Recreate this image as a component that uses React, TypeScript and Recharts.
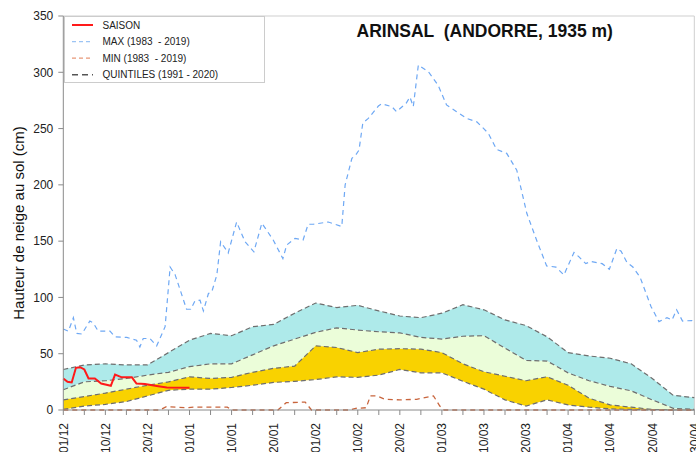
import React from 'react';
import { ComposedChart, Area, Line, XAxis, YAxis, ReferenceLine, Label } from 'recharts';

// x unit: 10 units between consecutive labelled dates (01/12 = 0 ... 30/04 = 150)
const tickLabels = ['01/12', '10/12', '20/12', '01/01', '10/01', '20/01', '01/02', '10/02', '20/02', '01/03', '10/03', '20/03', '01/04', '10/04', '20/04', '30/04'];
const xTicks = [0, 5, 10, 15, 20, 25, 30, 35, 40, 45, 50, 55, 60, 65, 70, 75, 80, 85, 90, 95, 100, 105, 110, 115, 120, 125, 130, 135, 140, 145, 150];
const yTicks = [0, 50, 100, 150, 200, 250, 300, 350];

const quintileDays = [0, 5, 10, 15, 20, 25, 30, 35, 40, 45, 50, 55, 60, 65, 70, 75, 80, 85, 90, 95, 100, 105, 110, 115, 120, 125, 130, 135, 140, 145, 150];
const q20 = [0.5, 3.5, 5, 7.5, 12.5, 17.5, 18.5, 18.5, 20, 22, 24.5, 25.5, 27, 29.5, 29, 31, 36, 33, 33, 25.5, 18.5, 9, 3.5, 9, 4.5, 2.5, 1, 0.5, 0, 0, 0];
const q40 = [9, 12, 15, 18.5, 22, 25, 29.5, 28, 29, 33.5, 37, 39, 57, 55.5, 51, 54, 54.5, 54, 51, 41, 34, 30, 26, 29.5, 22, 10.5, 4.5, 2.5, 0.5, 0, 0];
const q60 = [18, 25, 26, 28, 31, 33.5, 38.5, 41, 41, 49, 57, 63, 69, 73, 71, 69.5, 68.5, 64.5, 63, 65.5, 66, 55, 44, 43.5, 33, 26, 21, 17, 9, 1.5, 0.5];
const q80 = [36, 40, 41, 40, 40, 51, 62, 68, 66, 74, 76, 86, 95, 91, 93, 88, 83.5, 82, 86, 93.5, 89, 80, 75, 65, 51, 48, 46, 41, 28, 13, 11];

const maxDays = [0, 1.2, 2.4, 3.2, 4.4, 6.3, 7.1, 8.3, 11.1, 12.3, 15.1, 17.4, 18.2, 19.0, 20.6, 22.2, 24.2, 25.4, 26.6, 29.3, 30.3, 31.3, 32.5, 33.3, 34.5, 35.3, 36.5, 37.4, 39.2, 41.2, 43.2, 45.3, 47.2, 49.9, 52.2, 53.1, 55.1, 57.0, 58.2, 59.4, 63.0, 66.2, 67.0, 68.6, 69.7, 70.3, 71.2, 72.5, 74.9, 75.7, 78.1, 79.2, 81.5, 82.4, 83.2, 84.4, 86.8, 89.1, 91.1, 93.5, 95.9, 98.3, 101.0, 103.0, 105.4, 107.8, 110.2, 112.5, 114.9, 117.1, 119.0, 121.4, 122.6, 124.2, 125.4, 128.1, 129.8, 131.6, 132.6, 134.0, 135.4, 137.1, 139.7, 141.6, 143.5, 144.7, 145.8, 147.2, 149.4, 150];
const maxValues = [72, 70, 82, 68, 67.5, 79, 77.5, 70, 70, 65, 64.5, 62, 56, 63.5, 63.5, 57, 74, 127, 120, 89.5, 89.5, 97, 97.5, 88, 103.5, 105, 120, 149.5, 139.5, 167, 149.5, 140.5, 166, 151, 134.5, 146.5, 152.5, 151, 165, 165, 167, 163, 200, 223.5, 227.5, 231, 255, 259, 270, 272, 269.5, 265, 272.5, 278, 269.5, 306.5, 300.5, 288.5, 271, 265, 259, 256, 246, 231.5, 228, 213, 174.5, 151, 128, 127, 120, 140, 136, 130, 132, 130, 125, 143.5, 141, 131, 127, 118, 92, 78.5, 82, 80, 89, 79, 79.5, 78];

const minDays = [0, 23, 24.5, 29, 31, 39, 40, 51, 53, 57.5, 59, 68, 69.5, 72, 73, 74.5, 76.5, 80, 84, 88, 89.5, 90.5, 150];
const minValues = [0, 0, 3, 2, 2.5, 2.5, 0, 0, 6.5, 7, 0, 0, 1.5, 2, 12.5, 12.5, 9.5, 9, 9.5, 12.5, 3.5, 0, 0];

const saisonDays = [0, 1, 2, 3, 4, 5, 6, 7.5, 9, 11.3, 12.3, 13.9, 16.3, 17.4, 19.4, 22.2, 24.6, 30];
const saisonValues = [28, 25, 24.5, 37.5, 38, 36, 28, 28, 23.5, 21.5, 31.5, 29, 29, 23.5, 23, 21.3, 20, 19.8];

const quintileRows = quintileDays.map((u, i) => ({ u, q20: q20[i], q40: q40[i], q60: q60[i], q80: q80[i] }));
const maxRows = maxDays.map((u, i) => ({ u, v: maxValues[i] }));
const minRows = minDays.map((u, i) => ({ u, v: minValues[i] }));
const saisonRows = saisonDays.map((u, i) => ({ u, v: saisonValues[i] }));

const FONT = '"Liberation Sans", Arial, Helvetica, sans-serif';
const QCOLOR = '#6e6e6e';
const MAXCOLOR = '#6ea8f4';
const MINCOLOR = '#c8643c';
const SAISONCOLOR = '#ff1a1a';

const XTick = (props: any) => {
  const { x, y, payload } = props;
  const v = payload.value;
  if (v % 10 !== 0) return <g />;
  const label = tickLabels[v / 10];
  return (
    <g transform={`translate(${x},${y})`}>
      <text x={0} y={0} dy="0.36em" textAnchor="end" transform="rotate(-90)" fill="#222" fontSize={12} fontFamily={FONT}>
        {label}
      </text>
    </g>
  );
};

const legendItems = [
  { label: 'SAISON', color: SAISONCOLOR, dash: undefined as string | undefined, width: 2 },
  { label: 'MAX (1983  - 2019)', color: '#9cc4f4', dash: '4 3', width: 1.2 },
  { label: 'MIN (1983  - 2019)', color: '#e89878', dash: '4 3', width: 1.2 },
  { label: 'QUINTILES (1991 - 2020)', color: '#555555', dash: '6 4', width: 1.5 },
];

const LegendBox = () => (
  <svg width={201} height={67} style={{ display: 'block' }}>
    <rect x={0.5} y={0.5} width={200} height={66} fill="#ffffff" stroke="#cccccc" strokeWidth={1} />
    {legendItems.map((it, i) => {
      const cy = 9 + i * 16.6;
      return (
        <g key={it.label}>
          <line x1={8} x2={29} y1={cy} y2={cy} stroke={it.color} strokeWidth={it.width} strokeDasharray={it.dash} />
          <text x={38.5} y={cy} dy="0.35em" fontSize={10} fill="#222" fontFamily={FONT} style={{ whiteSpace: 'pre' }}>
            {it.label}
          </text>
        </g>
      );
    })}
  </svg>
);

export default function App() {
  return (
    <div style={{ position: 'absolute', left: 0, top: 0, width: 696, height: 452, background: '#fff' }}>
      <ComposedChart
        width={696}
        height={452}
        margin={{ top: 16, right: 1.7, left: 0, bottom: 0 }}
        style={{ fontFamily: FONT }}
      >
        <XAxis
          type="number"
          dataKey="u"
          domain={[0, 150]}
          ticks={xTicks}
          interval={0}
          height={42}
          tickSize={5}
          tickMargin={8}
          tick={<XTick />}
          axisLine={{ stroke: '#8a8a8a' }}
          tickLine={{ stroke: '#8a8a8a' }}
        />
        <YAxis
          type="number"
          domain={[0, 350]}
          ticks={yTicks}
          interval={0}
          width={63.3}
          tickSize={5}
          tickMargin={5}
          tick={{ fill: '#222', fontSize: 12, fontFamily: FONT }}
          axisLine={{ stroke: '#8a8a8a' }}
          tickLine={{ stroke: '#8a8a8a' }}
        >
          <Label
            content={(p: any) => {
              const vb = p.viewBox || {};
              const cy = (vb.y ?? 16) + (vb.height ?? 394) / 2 + 10;
              return (
                <text x={18.5} y={cy} transform={`rotate(-90, 18.5, ${cy})`} textAnchor="middle" dy="0.36em" fontSize={15} fill="#111" fontFamily={FONT}>
                  Hauteur de neige au sol (cm)
                </text>
              );
            }}
          />
        </YAxis>
        <ReferenceLine y={350} stroke="#cfcfcf" strokeWidth={1} />
        <ReferenceLine x={150} stroke="#cfcfcf" strokeWidth={1} />
        <Area data={quintileRows} dataKey={(d: any) => [d.q60, d.q80]} type="linear" fill="#aeeaea" fillOpacity={1} stroke="none" isAnimationActive={false} />
        <Area data={quintileRows} dataKey={(d: any) => [d.q40, d.q60]} type="linear" fill="#ebfdd9" fillOpacity={1} stroke="none" isAnimationActive={false} />
        <Area data={quintileRows} dataKey={(d: any) => [d.q20, d.q40]} type="linear" fill="#f9d200" fillOpacity={1} stroke="none" isAnimationActive={false} />
        <Line data={quintileRows} dataKey="q80" type="linear" stroke={QCOLOR} strokeWidth={1.2} strokeDasharray="5 3" dot={false} isAnimationActive={false} />
        <Line data={quintileRows} dataKey="q60" type="linear" stroke={QCOLOR} strokeWidth={1.2} strokeDasharray="5 3" dot={false} isAnimationActive={false} />
        <Line data={quintileRows} dataKey="q40" type="linear" stroke={QCOLOR} strokeWidth={1.2} strokeDasharray="5 3" dot={false} isAnimationActive={false} />
        <Line data={quintileRows} dataKey="q20" type="linear" stroke={QCOLOR} strokeWidth={1.2} strokeDasharray="5 3" dot={false} isAnimationActive={false} />
        <Line data={minRows} dataKey="v" type="linear" stroke={MINCOLOR} strokeWidth={1.3} strokeDasharray="5 4" dot={false} isAnimationActive={false} />
        <Line data={maxRows} dataKey="v" type="linear" stroke={MAXCOLOR} strokeWidth={1.2} strokeDasharray="5 4" dot={false} isAnimationActive={false} />
        <Line data={saisonRows} dataKey="v" type="linear" stroke={SAISONCOLOR} strokeWidth={2} dot={false} isAnimationActive={false} />
        <text x={356.5} y={36.5} fontSize={17.5} fontWeight="bold" fill="#111" fontFamily={FONT} style={{ whiteSpace: 'pre' }}>
          {'ARINSAL  (ANDORRE, 1935 m)'}
        </text>
      </ComposedChart>
      <div style={{ position: 'absolute', left: 63.5, top: 15.5, width: 201, height: 67 }}>
        <LegendBox />
      </div>
    </div>
  );
}
